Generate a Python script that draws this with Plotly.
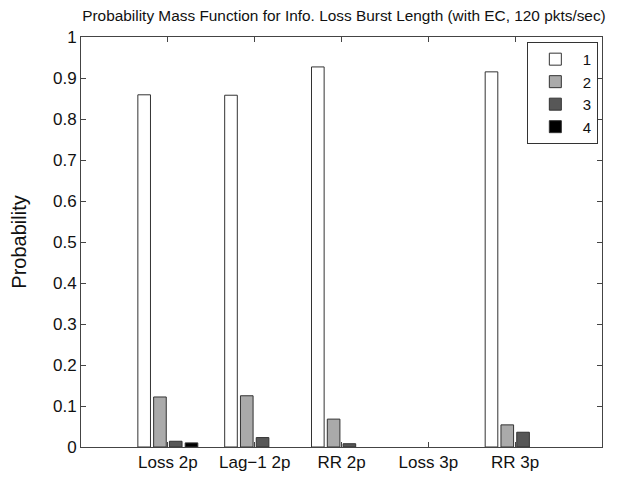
import plotly.graph_objects as go

categories = ["Loss 2p", "Lag\u22121 2p", "RR 2p", "Loss 3p", "RR 3p"]
positions = [1, 2, 3, 4, 5]
series_names = ["1", "2", "3", "4"]
burst1 = [0.859, 0.858, 0.927, 0.0, 0.915]
burst2 = [0.122, 0.125, 0.068, 0.0, 0.054]
burst3 = [0.014, 0.023, 0.008, 0.0, 0.036]
burst4 = [0.010, 0.0, 0.0, 0.0, 0.0]
colors = ["#ffffff", "#aaaaaa", "#575757", "#000000"]

fig = go.Figure()
for name, vals, col in zip(series_names, [burst1, burst2, burst3, burst4], colors):
    fig.add_trace(go.Bar(
        x=positions, y=vals, name=name,
        marker=dict(color=col,
                    line=dict(color="#333333",
                              width=[1 if v > 0 else 0 for v in vals])),
    ))

font_family = "Liberation Sans, Arial, sans-serif"
fig.update_layout(
    width=612, height=476,
    margin=dict(l=73, r=18, t=29, b=36.5, autoexpand=False),
    paper_bgcolor="white", plot_bgcolor="white",
    barmode="group", bargap=0.273, bargroupgap=0.2,
    font=dict(family=font_family, size=17, color="#111111"),
    title=dict(
        text="Probability Mass Function for Info. Loss Burst Length (with EC, 120 pkts/sec)",
        font=dict(size=15.4, color="#111111"),
        x=0.549, xanchor="center", xref="container",
        y=0.985, yanchor="middle", yref="container",
    ),
    showlegend=True,
    legend=dict(
        x=0.992, xanchor="right", y=0.988, yanchor="top",
        bgcolor="white", bordercolor="#333333", borderwidth=1,
        font=dict(size=15), traceorder="normal",
        tracegroupgap=0, itemwidth=45,
    ),
)
fig.update_xaxes(
    range=[0, 6], tickvals=positions, ticktext=categories,
    ticks="inside", ticklen=5, tickcolor="#444444",
    showline=True, linecolor="#444444", linewidth=1, mirror="ticks",
    showgrid=False, zeroline=False, automargin=False,
)
fig.update_yaxes(
    range=[0, 1], dtick=0.1,
    ticks="inside", ticklen=5, tickcolor="#444444",
    showline=True, linecolor="#444444", linewidth=1, mirror="ticks",
    showgrid=False, zeroline=False, automargin=False,
    title=dict(text="Probability", standoff=24),
)

fig.write_html("out.html")
